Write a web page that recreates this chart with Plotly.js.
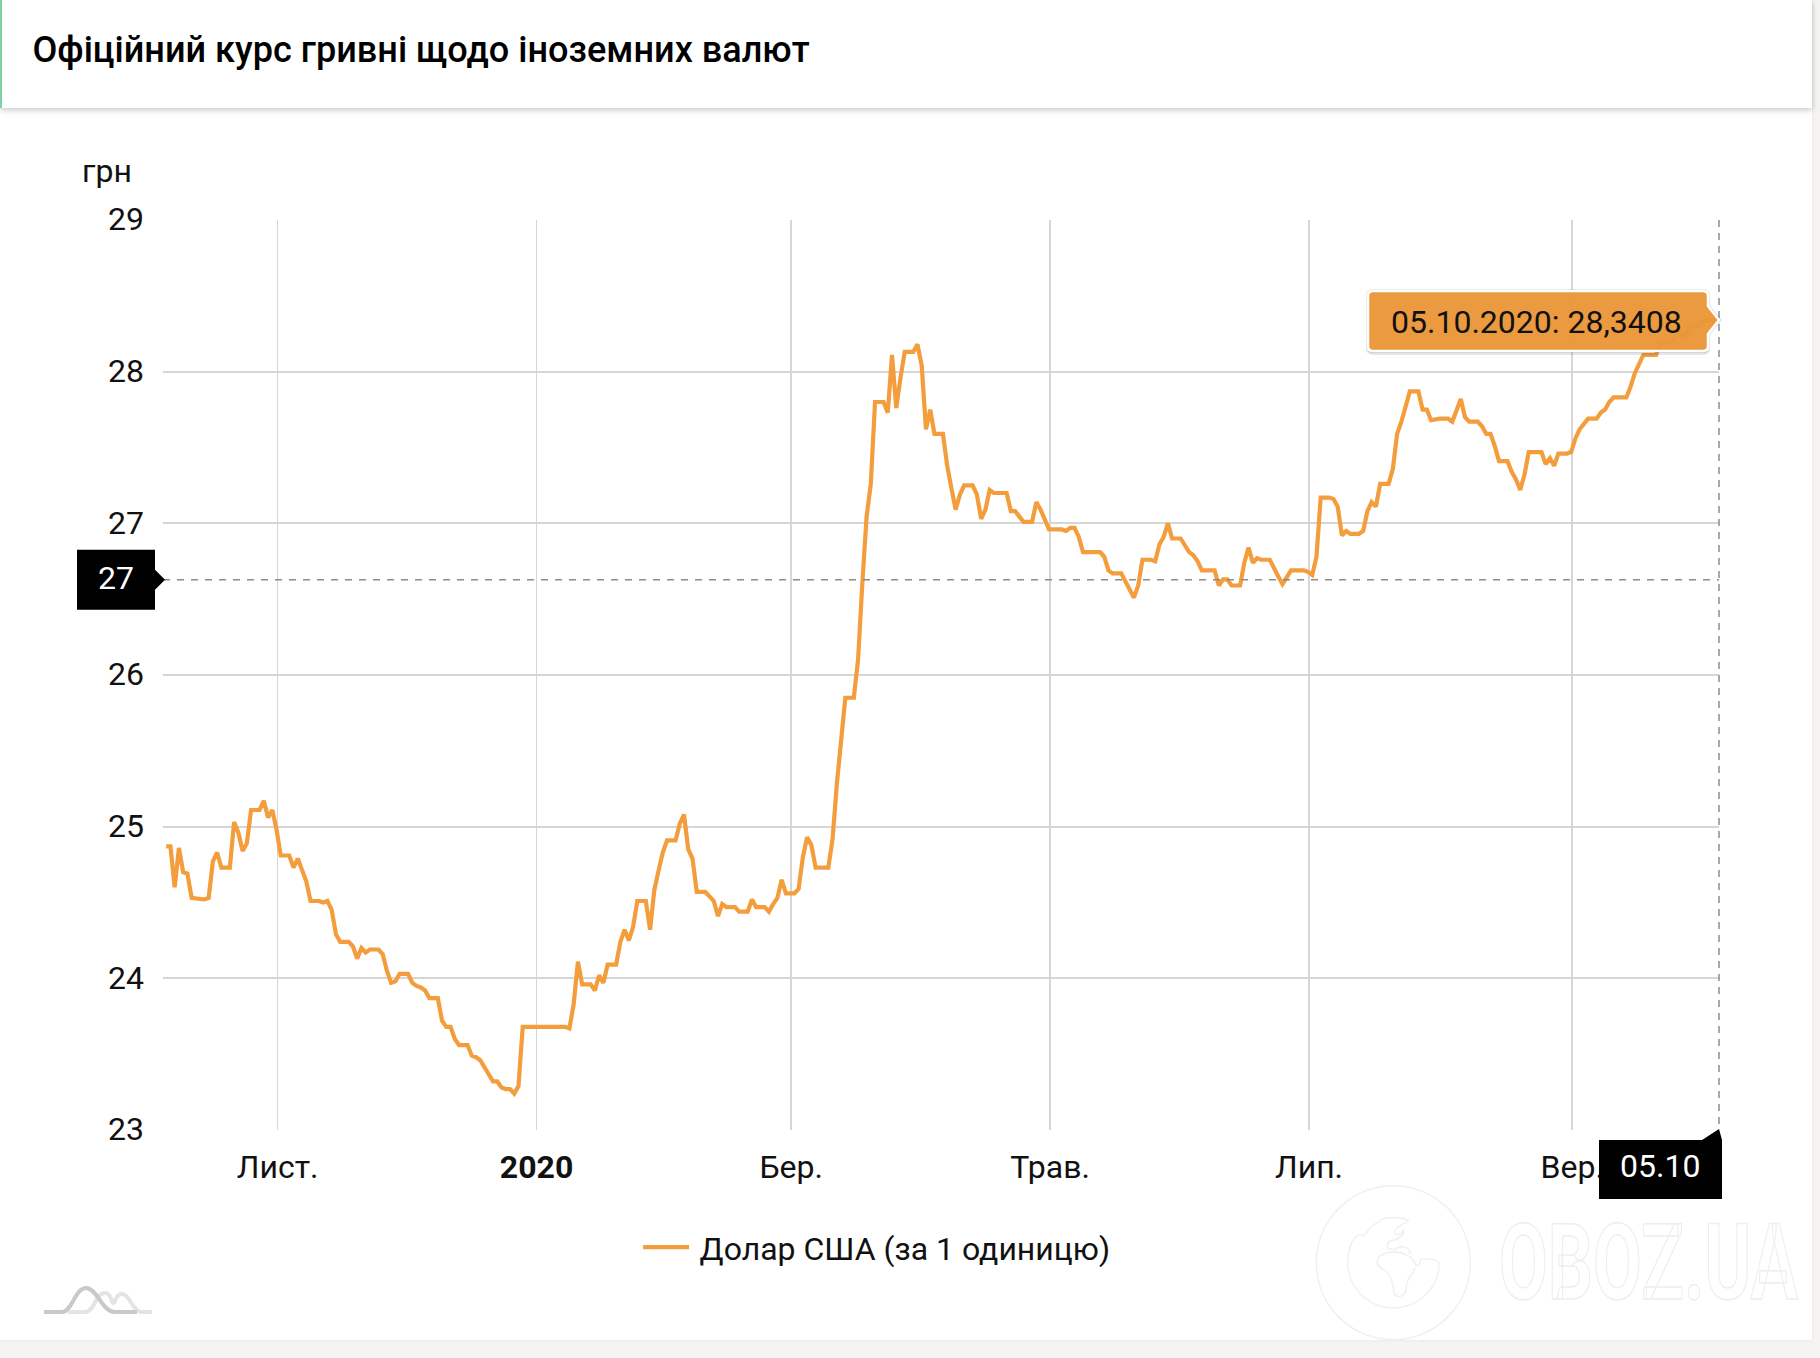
<!DOCTYPE html>
<html><head><meta charset="utf-8">
<script src="https://cdn.plot.ly/plotly-3.0.1.min.js"></script>
<style>
html,body{margin:0;padding:0;background:#f5f4f2;width:1820px;height:1358px;overflow:hidden}
#card{position:absolute;left:0;top:0;width:1812px;height:1340px;background:#fff;box-shadow:0 0 3px rgba(0,0,0,.08)}
#head{position:absolute;left:0;top:0;width:1812px;height:108px;background:#fff;border-left:2px solid #7dd3a8;box-sizing:border-box;box-shadow:0 2px 6px rgba(0,0,0,.22)}
#deco{position:absolute;left:0;top:0}
#plot{position:absolute;left:0;top:0;width:1820px;height:1358px}
</style></head><body>
<div id="card"></div><div id="head"></div>
<svg id="deco" width="1820" height="1358">
 <g fill="none" stroke-width="4">
  <path d="M68,1312 H85 C95,1312 95,1293 105,1293 C112,1293 111,1303 113,1303 C116,1303 115,1294 122,1294 C130,1294 132,1312 142,1312 H152" stroke="#e4e4e4"/>
  <path d="M44,1312 H62 C72,1312 75,1288 86,1288 C97,1288 102,1312 115,1312 H137" stroke="#c9c9c9"/>
 </g>
 <g fill="none" stroke="#efefef" stroke-width="1.5">
  <circle cx="1393.3" cy="1262.7" r="77"/>
  <g transform="translate(1300,1170) scale(0.3333)" stroke-width="4">
   <path d="M190,197 C165,180 143,235 143,278 C143,352 205,414 280,414 C355,414 417,352 417,285 C417,265 390,265 362,268 C362,285 352,292 345,282 C340,270 335,262 325,258 C295,240 255,243 236,262 C226,280 235,292 252,298 C275,312 277,340 283,372 C296,388 320,378 320,345 C320,322 343,312 345,292"/>
   <path d="M190,197 C205,190 205,165 240,155 C245,140 300,138 325,152 C320,160 290,165 283,185 C290,200 305,195 310,180 C315,195 295,210 270,212 C255,225 260,240 285,238 C300,225 325,225 332,252"/>
  </g>
 </g>
 <text id="wm" x="0" y="0" font-family="Roboto" font-weight="700" font-size="105" fill="#fff" stroke="#eeeeee" stroke-width="1.5" transform="translate(1499,1299) scale(0.7,1)">OBOZ.UA</text>
</svg>
<div id="plot"></div>
<script>
const seriesName = 'Долар США (за 1 одиницю)';
const titleText = 'Офіційний курс гривні щодо іноземних валют';
const unitLabel = 'грн';
const tickDates = ['2019-11-01','2020-01-01','2020-03-01','2020-05-01','2020-07-01','2020-09-01'];
const tickLabels = ['Лист.','<b>2020</b>','Бер.','Трав.','Лип.','Вер.'];
const yTicks = [23,24,25,26,27,28,29];
const crossValue = 26.628;
const crossLabel = '27';
const crossDate = '05.10';
const tipLabel = '05.10.2020: 28,3408';
const dates = [
'2019-10-06','2019-10-07','2019-10-08','2019-10-09','2019-10-10','2019-10-11','2019-10-12','2019-10-15','2019-10-16','2019-10-17','2019-10-18','2019-10-19','2019-10-21','2019-10-22','2019-10-23','2019-10-24','2019-10-25','2019-10-26','2019-10-28','2019-10-29','2019-10-30','2019-10-31',
'2019-11-01','2019-11-02','2019-11-04','2019-11-05','2019-11-06','2019-11-07','2019-11-08','2019-11-09','2019-11-11','2019-11-12','2019-11-13','2019-11-14','2019-11-15','2019-11-16','2019-11-18','2019-11-19','2019-11-20','2019-11-21','2019-11-22','2019-11-23','2019-11-25','2019-11-26','2019-11-27','2019-11-28','2019-11-29','2019-11-30',
'2019-12-02','2019-12-03','2019-12-04','2019-12-05','2019-12-06','2019-12-07','2019-12-09','2019-12-10','2019-12-11','2019-12-12','2019-12-13','2019-12-14','2019-12-16','2019-12-17','2019-12-18','2019-12-19','2019-12-20','2019-12-21','2019-12-22','2019-12-23','2019-12-24','2019-12-25','2019-12-26','2019-12-27','2019-12-28','2019-12-29',
'2020-01-08','2020-01-09','2020-01-10','2020-01-11','2020-01-12','2020-01-14','2020-01-15','2020-01-16','2020-01-17','2020-01-18','2020-01-20','2020-01-21','2020-01-22','2020-01-23','2020-01-24','2020-01-25','2020-01-27','2020-01-28','2020-01-29','2020-01-30','2020-01-31',
'2020-02-01','2020-02-03','2020-02-04','2020-02-05','2020-02-06','2020-02-07','2020-02-08','2020-02-10','2020-02-11','2020-02-12','2020-02-13','2020-02-14','2020-02-15','2020-02-17','2020-02-18','2020-02-20','2020-02-21','2020-02-22','2020-02-24','2020-02-25','2020-02-26','2020-02-27','2020-02-28','2020-02-29',
'2020-03-02','2020-03-03','2020-03-04','2020-03-05','2020-03-06','2020-03-07','2020-03-10','2020-03-11','2020-03-12','2020-03-13','2020-03-14','2020-03-16','2020-03-17','2020-03-18','2020-03-19','2020-03-20','2020-03-21','2020-03-23','2020-03-24','2020-03-25','2020-03-26','2020-03-27','2020-03-28','2020-03-30','2020-03-31',
'2020-04-01','2020-04-02','2020-04-03','2020-04-04','2020-04-06','2020-04-07','2020-04-08','2020-04-09','2020-04-10','2020-04-11','2020-04-13','2020-04-14','2020-04-15','2020-04-16','2020-04-17','2020-04-18','2020-04-21','2020-04-22','2020-04-23','2020-04-24','2020-04-25','2020-04-27','2020-04-28','2020-04-29','2020-04-30',
'2020-05-01','2020-05-04','2020-05-05','2020-05-06','2020-05-07','2020-05-08','2020-05-09','2020-05-13','2020-05-14','2020-05-15','2020-05-16','2020-05-18','2020-05-19','2020-05-20','2020-05-21','2020-05-22','2020-05-23','2020-05-25','2020-05-26','2020-05-27','2020-05-28','2020-05-29','2020-05-30',
'2020-06-01','2020-06-02','2020-06-03','2020-06-04','2020-06-05','2020-06-06','2020-06-09','2020-06-10','2020-06-11','2020-06-12','2020-06-13','2020-06-15','2020-06-16','2020-06-17','2020-06-18','2020-06-19','2020-06-20','2020-06-22','2020-06-23','2020-06-24','2020-06-25','2020-06-26','2020-06-27','2020-06-30',
'2020-07-01','2020-07-02','2020-07-03','2020-07-04','2020-07-06','2020-07-07','2020-07-08','2020-07-09','2020-07-10','2020-07-11','2020-07-13','2020-07-14','2020-07-15','2020-07-16','2020-07-17','2020-07-18','2020-07-20','2020-07-21','2020-07-22','2020-07-23','2020-07-24','2020-07-25','2020-07-27','2020-07-28','2020-07-29','2020-07-30',
'2020-08-01','2020-08-03','2020-08-04','2020-08-05','2020-08-06','2020-08-07','2020-08-08','2020-08-10','2020-08-11','2020-08-12','2020-08-13','2020-08-14','2020-08-15','2020-08-17','2020-08-18','2020-08-19','2020-08-20','2020-08-21','2020-08-22','2020-08-25','2020-08-26','2020-08-27','2020-08-28','2020-08-29','2020-08-31',
'2020-09-01','2020-09-02','2020-09-03','2020-09-04','2020-09-05','2020-09-07','2020-09-08','2020-09-09','2020-09-10','2020-09-11','2020-09-14','2020-09-15','2020-09-16','2020-09-17','2020-09-18','2020-09-21','2020-09-22','2020-09-23','2020-09-25','2020-09-26','2020-09-28','2020-09-29',
'2020-10-01','2020-10-02','2020-10-03','2020-10-05'];
const values = [
24.87,24.87,24.60,24.86,24.70,24.69,24.53,24.52,24.53,24.77,24.83,24.73,24.73,25.03,24.96,24.84,24.89,25.11,25.11,25.17,25.06,25.11,
24.98,24.81,24.81,24.73,24.79,24.71,24.64,24.51,24.51,24.50,24.51,24.45,24.29,24.24,24.24,24.21,24.13,24.20,24.17,24.19,24.19,24.16,24.05,23.97,23.98,24.03,
24.03,23.97,23.95,23.94,23.92,23.87,23.87,23.72,23.68,23.68,23.60,23.56,23.56,23.49,23.48,23.46,23.41,23.37,23.32,23.32,23.28,23.27,23.27,23.24,23.29,23.68,
23.68,23.67,23.83,24.11,23.96,23.96,23.92,24.02,23.97,24.09,24.09,24.24,24.32,24.25,24.34,24.51,24.51,24.32,24.58,24.71,24.83,
24.91,24.91,25.02,25.08,24.85,24.79,24.57,24.57,24.54,24.51,24.41,24.49,24.47,24.47,24.44,24.44,24.52,24.47,24.47,24.44,24.49,24.53,24.65,24.56,
24.56,24.59,24.80,24.93,24.88,24.73,24.73,24.92,25.28,25.60,25.85,25.85,26.10,26.60,27.04,27.26,27.80,27.80,27.73,28.11,27.76,27.96,28.13,28.13,28.18,
28.04,27.62,27.75,27.59,27.59,27.38,27.23,27.09,27.19,27.25,27.25,27.19,27.03,27.09,27.22,27.20,27.20,27.08,27.08,27.04,27.01,27.01,27.14,27.09,27.03,
26.96,26.96,26.95,26.97,26.97,26.91,26.81,26.81,26.78,26.69,26.67,26.67,26.62,26.56,26.51,26.59,26.76,26.76,26.75,26.86,26.91,27.00,26.90,
26.90,26.86,26.81,26.79,26.75,26.69,26.69,26.59,26.63,26.63,26.59,26.59,26.74,26.84,26.74,26.77,26.76,26.76,26.70,26.65,26.60,26.64,26.69,26.69,
26.68,26.66,26.78,27.17,27.17,27.16,27.11,26.92,26.95,26.93,26.93,26.95,27.08,27.14,27.11,27.26,27.26,27.36,27.59,27.67,27.76,27.87,27.87,27.75,27.75,27.68,
27.69,27.69,27.67,27.74,27.82,27.70,27.67,27.67,27.64,27.59,27.59,27.51,27.41,27.41,27.34,27.29,27.22,27.32,27.47,27.47,27.39,27.43,27.38,27.46,27.46,
27.47,27.56,27.62,27.65,27.69,27.69,27.73,27.75,27.80,27.83,27.83,27.90,27.99,28.05,28.11,28.11,28.19,28.19,28.20,28.24,28.24,28.30,
28.30,28.33,28.34,28.3408];

const lastValue = values[values.length-1];
const font = 'Roboto, sans-serif';
const orange = '#f49d3c', grid = '#d6d6d6', dashC = '#8c8c8c';
const tipPath = 'M-351,24 Q-351,29 -346,29 L-16,29 Q-11,29 -11,24 L-11,14 L0,0 L-11,-14 L-11,-26 Q-11,-31 -16,-31 L-346,-31 Q-351,-31 -351,-26 Z';
function pix(xref,xa,yref,ya,path,fill,lineColor,lineW,layer){
  return {type:'path',xref:xref,yref:yref,xsizemode:'pixel',ysizemode:'pixel',xanchor:xa,yanchor:ya,path:path,
          fillcolor:fill,line:{color:lineColor||'rgba(0,0,0,0)',width:lineW||0},layer:layer||'above'};
}
const shapes = [
  {type:'line',xref:'paper',x0:0,x1:1,yref:'y',y0:crossValue,y1:crossValue,line:{color:dashC,width:1.5,dash:'7px,7px'},layer:'above'},
  {type:'line',xref:'paper',x0:1,x1:1,yref:'paper',y0:1,y1:0,line:{color:dashC,width:1.5,dash:'7px,6px'},layer:'above'},
  pix('paper',0,'y',crossValue,'M-86,30 L-8,30 L-8,10 L2,0 L-8,-10 L-8,-30 L-86,-30 Z','#000'),
  pix('paper',1,'paper',0,'M-120,-10 L-17,-10 L0,1 L3,-10 L3,-69 L-120,-69 Z','#000'),
  pix('paper',1,'y',lastValue,'M-353,24 Q-353,31 -346,31 L-16,31 Q-9,31 -9,24 L-9,15 L3,0 L-9,-15 L-9,-28 Q-9,-35 -16,-35 L-346,-35 Q-353,-35 -353,-28 Z','rgba(0,0,0,0.10)'),
  pix('paper',1,'y',lastValue,'M-352,24 Q-352,30 -346,30 L-16,30 Q-10,30 -10,24 L-10,14 L2,0 L-10,-14 L-10,-27 Q-10,-33 -16,-33 L-346,-33 Q-352,-33 -352,-27 Z','rgba(0,0,0,0.12)'),
  pix('paper',1,'y',lastValue,tipPath,'rgba(236,152,58,0.96)','#ffffff',2.5)
];
const annotations = [
  {xref:'paper',yref:'paper',x:0,y:1,xshift:-83,yshift:49,xanchor:'left',yanchor:'middle',text:unitLabel,showarrow:false,font:{family:font,size:32,color:'#111'}},
  {xref:'paper',yref:'y',x:0,y:crossValue,xshift:-47,yshift:2,xanchor:'center',yanchor:'middle',text:crossLabel,showarrow:false,font:{family:font,size:32,color:'#fff'}},
  {xref:'paper',yref:'paper',x:1,y:0,xshift:-59,yshift:-36,xanchor:'center',yanchor:'middle',text:crossDate,showarrow:false,font:{family:font,size:32,color:'#fff'}},
  {xref:'paper',yref:'y',x:1,y:lastValue,xshift:-183,yshift:-2,xanchor:'center',yanchor:'middle',text:tipLabel,showarrow:false,font:{family:font,size:32,color:'#111'}}
];
const HOURS_6 = 6*3600*1000;
Plotly.newPlot('plot',[{
  type:'scatter',mode:'lines',name:seriesName,
  x:dates.map(function(d){return new Date(d+'T00:00:00Z').getTime()-HOURS_6;}),y:values,
  line:{color:orange,width:4.2,shape:'linear'},hoverinfo:'skip',showlegend:true
}],{
  width:1820,height:1358,
  margin:{l:163,r:100.7,t:220,b:228.3,pad:0},
  paper_bgcolor:'rgba(0,0,0,0)',plot_bgcolor:'rgba(0,0,0,0)',
  title:{text:titleText,x:32.5/1820,xanchor:'left',xref:'container',y:1-49/1358,yanchor:'middle',yref:'container',font:{family:font,size:36.1,weight:500,color:'#000'},pad:{l:0,r:0,t:0,b:0}},
  xaxis:{type:'date',range:['2019-10-05','2020-10-05 14:00'],tickmode:'array',tickvals:tickDates,ticktext:tickLabels,
    showgrid:true,gridcolor:grid,gridwidth:1.7,zeroline:false,showline:false,ticks:'',ticklabelstandoff:15,
    tickfont:{family:font,size:32,color:'#111'},tickangle:0},
  yaxis:{range:[23,29],tickmode:'array',tickvals:yTicks,ticktext:yTicks.map(String),showgrid:true,gridcolor:grid,gridwidth:1.7,
    zeroline:false,showline:false,ticks:'',ticklabelstandoff:19,tickfont:{family:font,size:32,color:'#111'}},
  showlegend:true,
  legend:{orientation:'h',x:0.4570,xanchor:'center',y:-0.129,yanchor:'middle',itemwidth:46,font:{family:font,size:32,color:'#111'},bgcolor:'rgba(0,0,0,0)'},
  shapes:shapes,annotations:annotations,hovermode:false
},{displayModeBar:false,staticPlot:true}).then(function(){
  var lt=document.querySelector('.legendtext');
  if(lt){lt.setAttribute('x',parseFloat(lt.getAttribute('x')||0)+5.5);}
  var ya=document.querySelector('.yaxislayer-above');
  if(ya){ya.setAttribute('transform','translate(1,-1)');}
  var wm=document.getElementById('wm');
  var w=wm.getComputedTextLength();
  wm.setAttribute('transform','translate(1499,1299) scale('+(299/w)+',1)');
});
</script></body></html>
